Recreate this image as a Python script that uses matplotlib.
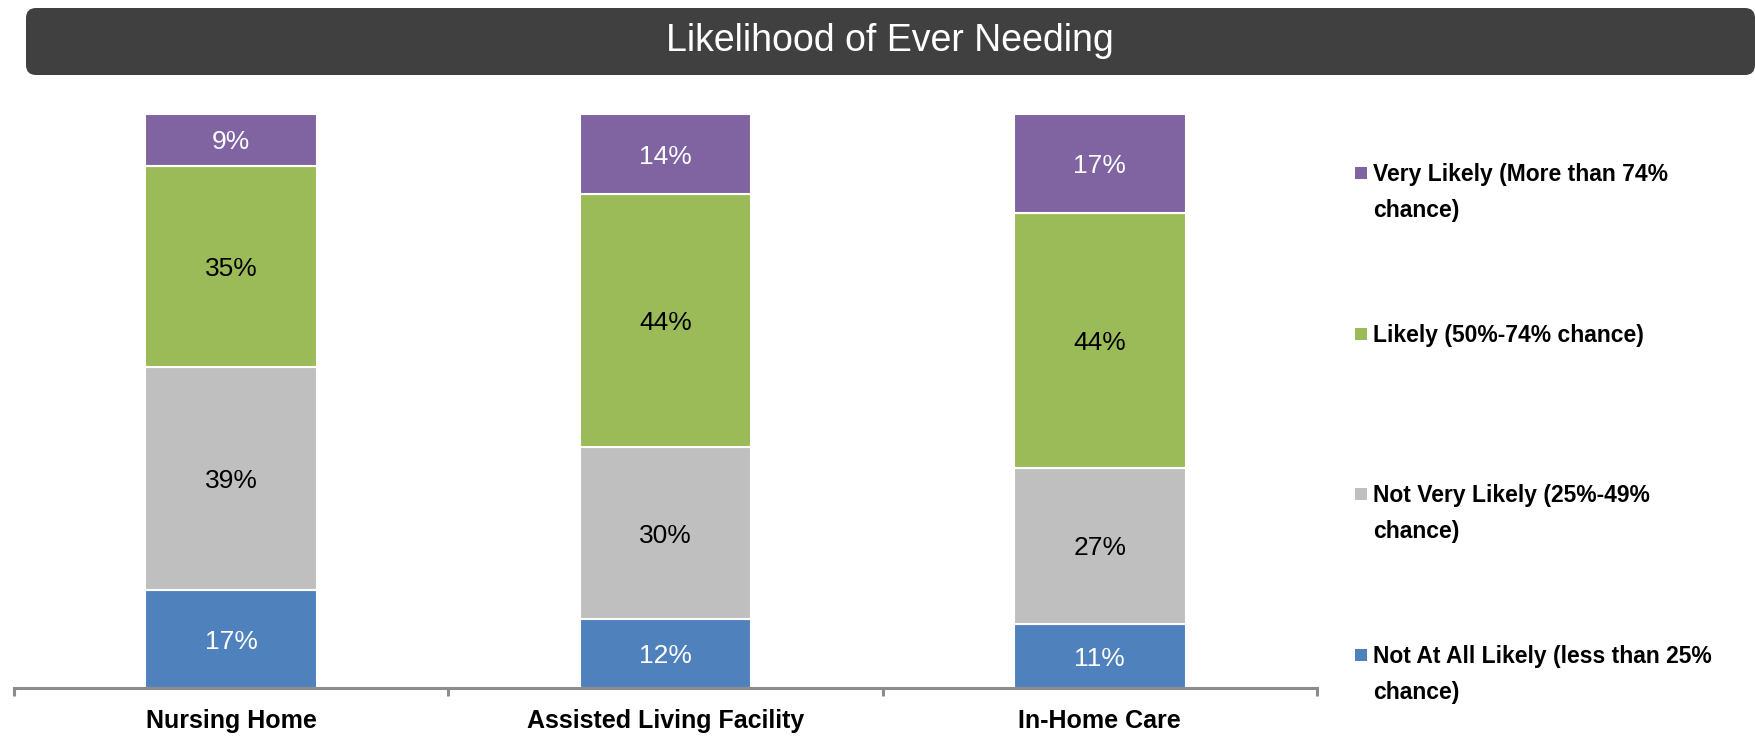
import numpy as np
import matplotlib
matplotlib.use("Agg")
import matplotlib.pyplot as plt
from matplotlib.patches import FancyBboxPatch, Rectangle

plt.rcParams['font.family'] = ['Liberation Sans', 'DejaVu Sans']

# данные
categories = ["Nursing Home", "Assisted Living Facility", "In-Home Care"]
series = ["Not At All Likely (less than 25%\nchance)",
          "Not Very Likely (25%-49%\nchance)",
          "Likely (50%-74% chance)",
          "Very Likely (More than 74%\nchance)"]
not_at_all = [17, 12, 11]
not_very = [39, 30, 27]
likely = [35, 44, 44]
very_likely = [9, 14, 17]
colors = ["#4F81BD", "#BFBFBF", "#9BBB59", "#8064A2"]
text_colors = ["white", "black", "black", "white"]

W, H = 1756, 736
fig = plt.figure(figsize=(W / 100, H / 100), dpi=100)
ax = fig.add_axes([14 / W, (H - 688) / H, (1317 - 14) / W, (688 - 114) / H])

values = np.array([not_at_all, not_very, likely, very_likely], dtype=float)
shares = values / values.sum(axis=0) * 100  # 100% stacked, как в Excel
x = np.arange(len(categories))
bottom = np.zeros(len(categories))
for i in range(len(series)):
    ax.bar(x, shares[i], bottom=bottom, width=0.395, color=colors[i],
           edgecolor="white", linewidth=1.5)
    for j in range(len(categories)):
        ax.text(x[j], bottom[j] + shares[i][j] / 2, f"{values[i][j]:.0f}%",
                ha="center", va="center_baseline", fontsize=19, color=text_colors[i])
    bottom += shares[i]

ax.set_xlim(-0.5, 2.5)
ax.set_ylim(0, 100)
for s in ["top", "right", "left"]:
    ax.spines[s].set_visible(False)
ax.spines["bottom"].set_color("#8C8C8C")
ax.spines["bottom"].set_linewidth(2.2)
ax.set_yticks([])
ax.set_xticks([-0.5, 0.5, 1.5, 2.5])
ax.set_xticklabels([])
ax.tick_params(axis="x", which="major", direction="out", length=6, width=2.2, color="#8C8C8C")
ax.set_xticks(x, minor=True)
ax.set_xticklabels(categories, minor=True, fontsize=18, fontweight="bold")
ax.tick_params(axis="x", which="minor", length=0, pad=15)

# заголовок в тёмной плашке
box = FancyBboxPatch((0.26, 6.61), 17.29, 0.67, boxstyle="round,pad=0,rounding_size=0.1",
                     transform=fig.dpi_scale_trans, facecolor="#404040", edgecolor="none")
fig.add_artist(box)
fig.text(890 / W, (H - 41) / H, "Likelihood of Ever Needing", ha="center", va="center",
         fontsize=27, color="white")

# легенда вручную
leg_y = [655, 494, 334, 173]
for i in range(len(series)):
    yc = leg_y[i]
    fig.add_artist(Rectangle((1355 / W, (H - yc - 6) / H), 12 / W, 12 / H,
                             transform=fig.transFigure, facecolor=colors[i], edgecolor="none"))
    fig.text(1373 / W, (H - yc + 10) / H, series[i], ha="left", va="top",
             fontsize=16.5, fontweight="bold", linespacing=1.73)

fig.savefig("out.png", dpi=100)
